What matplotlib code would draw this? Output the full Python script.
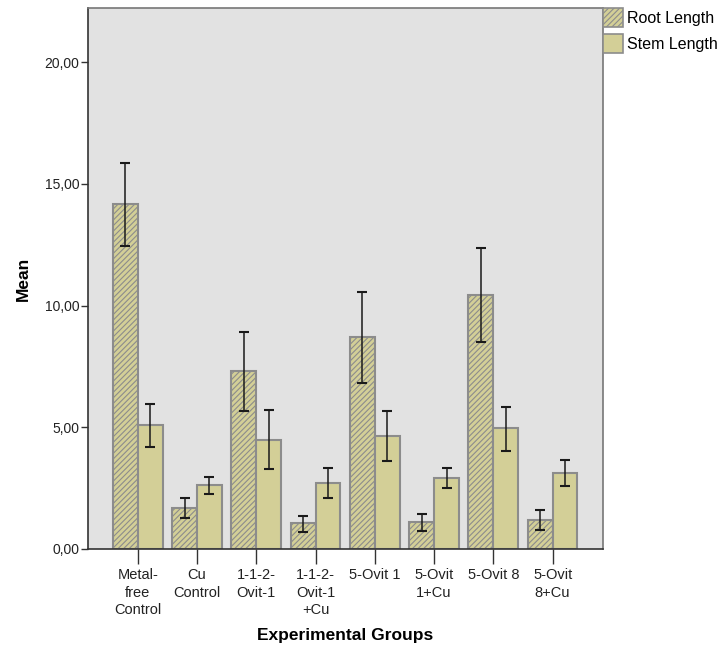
import matplotlib
matplotlib.use("Agg")
import matplotlib.pyplot as plt
import numpy as np
from matplotlib.patches import Patch

plt.rcParams['font.family'] = ['Liberation Sans', 'DejaVu Sans']
plt.rcParams['hatch.color'] = '#7a7a6a'
plt.rcParams['hatch.linewidth'] = 0.8

groups = ["Metal-\nfree\nControl", "Cu\nControl", "1-1-2-\nOvit-1", "1-1-2-\nOvit-1\n+Cu",
          "5-Ovit 1", "5-Ovit\n1+Cu", "5-Ovit 8", "5-Ovit\n8+Cu"]
root_mean = [14.17, 1.68, 7.31, 1.05, 8.69, 1.10, 10.43, 1.19]
root_hi = [15.86, 2.09, 8.91, 1.37, 10.55, 1.44, 12.35, 1.59]
root_lo = [12.44, 1.27, 5.68, 0.71, 6.82, 0.75, 8.51, 0.77]
stem_mean = [5.08, 2.63, 4.48, 2.70, 4.64, 2.90, 4.95, 3.11]
stem_hi = [5.94, 2.96, 5.71, 3.31, 5.65, 3.34, 5.84, 3.64]
stem_lo = [4.20, 2.26, 3.27, 2.08, 3.63, 2.49, 4.04, 2.57]
yticks = [0, 5, 10, 15, 20]
ytick_labels = ["0,00", "5,00", "10,00", "15,00", "20,00"]

fig = plt.figure(figsize=(7.25, 6.57), dpi=100)
ax = fig.add_axes([0.121, 0.1644, 0.7107, 0.8234])
ax.set_facecolor('#e2e2e2')

x = np.arange(len(groups))
w = 0.42
fill = '#d3cf97'
edge = '#8c8c8c'

rm = np.array(root_mean); sm = np.array(stem_mean)
ax.bar(x - w/2, rm, w, color=fill, edgecolor=edge, linewidth=1.5, hatch='//////', zorder=2)
ax.bar(x + w/2, sm, w, color=fill, edgecolor=edge, linewidth=1.5, zorder=2)
ax.errorbar(x - w/2, rm, yerr=[rm - np.array(root_lo), np.array(root_hi) - rm],
            fmt='none', ecolor='#1a1a1a', elinewidth=1.1, capsize=3.5, capthick=1.5, zorder=3)
ax.errorbar(x + w/2, sm, yerr=[sm - np.array(stem_lo), np.array(stem_hi) - sm],
            fmt='none', ecolor='#1a1a1a', elinewidth=1.1, capsize=3.5, capthick=1.5, zorder=3)

ax.set_xlim(-0.843, 7.85)
ax.set_ylim(0, 22.22)
ax.set_yticks(yticks)
ax.set_yticklabels(ytick_labels, fontsize=10, color='#222222')
ax.set_xticks(x)
ax.set_xticklabels(groups, fontsize=10.5, color='#222222', linespacing=1.3)
ax.tick_params(axis='x', length=11, width=1, color='#333333', pad=3)
ax.tick_params(axis='y', length=5, width=1, color='#333333', pad=1)

for s in ['left', 'bottom']:
    ax.spines[s].set_color('#333333')
    ax.spines[s].set_linewidth(1.2)
for s in ['top', 'right']:
    ax.spines[s].set_color('#777777')
    ax.spines[s].set_linewidth(1.2)

ax.set_ylabel('Mean', fontsize=12.5, fontweight='bold', labelpad=10)
ax.set_xlabel('Experimental Groups', fontsize=12.5, fontweight='bold', labelpad=8)

handles = [Patch(facecolor=fill, edgecolor=edge, hatch='//////', linewidth=1.2, label='Root Length'),
           Patch(facecolor=fill, edgecolor=edge, linewidth=1.2, label='Stem Length')]
fig.legend(handles=handles, loc='upper left', bbox_to_anchor=(0.828, 0.992), frameon=False,
           fontsize=11.5, handlelength=1.25, handleheight=1.4, handletextpad=0.25, labelspacing=0.45,
           borderaxespad=0, borderpad=0.2)

fig.savefig('out.png', dpi=100)
